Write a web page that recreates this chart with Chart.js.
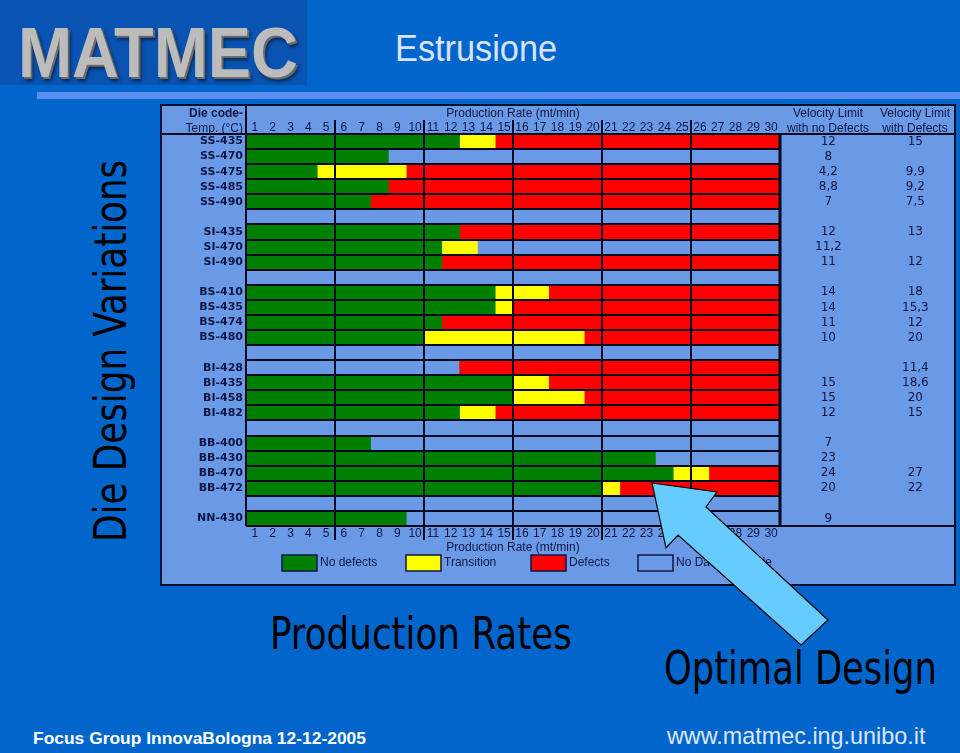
<!DOCTYPE html>
<html>
<head>
<meta charset="utf-8">
<script src="https://cdn.jsdelivr.net/npm/chart.js@4.4.1/dist/chart.umd.min.js"></script>
<style>
  html, body { margin: 0; padding: 0; }
  body { width: 960px; height: 753px; background: #0066cc; position: relative; overflow: hidden;
         font-family: "Liberation Sans", Arial, sans-serif; }
  .t { position: absolute; white-space: nowrap; line-height: 1; transform-origin: 0 0; }
  #logo { position: absolute; left: 0; top: 0; width: 307px; height: 85px; background: #0953b2; }
  #logoText { left: 18px; top: 13px; font: bold 70px "Liberation Sans"; color: #bcbcbc;
              text-shadow: 2px 2px 0 #6b6b6b, 3px 4px 4px rgba(0,0,0,0.55); }
  #title { left: 395px; top: 31px; font-size: 36px; color: #dbe2ff; }
  #rule { position: absolute; left: 37px; top: 92px; width: 923px; height: 7px; background: #5b8ef2; }
  #side { left: 84px; top: 542px; font: 45px "DejaVu Sans Condensed", "DejaVu Sans"; color: #000; }
  #prod { left: 270px; top: 607px; font: 45px "DejaVu Sans Condensed", "DejaVu Sans"; color: #000; }
  #opt { left: 664px; top: 641px; font: 46px "DejaVu Sans Condensed", "DejaVu Sans"; color: #000; }
  #foot1 { left: 33px; top: 729px; font: bold 17px "Liberation Sans"; color: #fff; }
  #foot2 { left: 667px; top: 724px; font-size: 24px; color: #dfe6ff; }
  #table { position: absolute; left: 160px; top: 104px; width: 796px; height: 482px; box-sizing: border-box;
           border: 2px solid #0a0f2e; background: #6a9ae6; }
  #table > div { position: relative; width: 792px; height: 478px; }
  #arrow { position: absolute; left: 0; top: 0; }
</style>
</head>
<body>
<div id="logo"></div>
<div class="t" id="logoText">MATMEC</div>
<div class="t" id="title">Estrusione</div>
<div id="rule"></div>
<div class="t" id="side">Die Design Variations</div>

<div id="table"><div><canvas id="chart"></canvas></div></div>

<div class="t" id="prod">Production Rates</div>
<div class="t" id="opt">Optimal Design</div>
<div class="t" id="foot1">Focus Group InnovaBologna 12-12-2005</div>
<div class="t" id="foot2">www.matmec.ing.unibo.it</div>

<svg id="arrow" width="960" height="753">
  <polygon points="652,483 717,492 706,507 828,620 801,645 678,535 666,548"
           fill="#66ccff" stroke="#000" stroke-width="1.2" stroke-linejoin="miter"/>
</svg>

<script>
  // die codes (empty strings are the spacer rows between families)
  var dieCodes = ["SS-435", "SS-470", "SS-475", "SS-485", "SS-490", "",
                  "SI-435", "SI-470", "SI-490", "",
                  "BS-410", "BS-435", "BS-474", "BS-480", "",
                  "BI-428", "BI-435", "BI-458", "BI-482", "",
                  "BB-400", "BB-430", "BB-470", "BB-472", "",
                  "NN-430"];

  var rateLabels = ["1", "2", "3", "4", "5", "6", "7", "8", "9", "10",
                    "11", "12", "13", "14", "15", "16", "17", "18", "19", "20",
                    "21", "22", "23", "24", "25", "26", "27", "28", "29", "30"];

  // production rate ranges (mt/min) for each state, one entry per row
  var noDefects = [[0, 12], [0, 8], [0, 4], [0, 8], [0, 7], null,
                   [0, 12], [0, 11], [0, 11], null,
                   [0, 14], [0, 14], [0, 11], [0, 10], null,
                   null, [0, 15], [0, 15], [0, 12], null,
                   [0, 7], [0, 23], [0, 24], [0, 20], null,
                   [0, 9]];
  var transition = [[12, 14], null, [4, 9], null, null, null,
                    null, [11, 13], null, null,
                    [14, 17], [14, 15], null, [10, 19], null,
                    null, [15, 17], [15, 19], [12, 14], null,
                    null, null, [24, 26], [20, 21], null,
                    null];
  var defects = [[14, 30], null, [9, 30], [8, 30], [7, 30], null,
                 [12, 30], null, [11, 30], null,
                 [17, 30], [15, 30], [11, 30], [19, 30], null,
                 [12, 30], [17, 30], [19, 30], [14, 30], null,
                 null, null, [26, 30], [21, 30], null,
                 null];
  var noData = [null, [8, 30], null, null, null, null,
                null, [13, 30], null, null,
                null, null, null, null, null,
                [0, 12], null, null, null, null,
                [7, 30], [23, 30], null, null, null,
                [9, 30]];

  var velNoDefects = [12, 8, 4.2, 8.8, 7, null,
                      12, 11.2, 11, null,
                      14, 14, 11, 10, null,
                      null, 15, 15, 12, null,
                      7, 23, 24, 20, null,
                      9];
  var velDefects = [15, null, 9.9, 9.2, 7.5, null,
                    13, null, 12, null,
                    18, 15.3, 12, 20, null,
                    11.4, 18.6, 20, 15, null,
                    null, null, 27, 22, null,
                    null];

  var ink = "#0e1646";
  var rule = "#05081e";

  function commaText(list) {
    return list.map(v => v == null ? "" : String(v).replace(".", ","));
  }

  function everyFifth(ctx) {
    return (ctx.index % 5 === 0 && ctx.index > 0 && ctx.index < 30) ? rule : "rgba(0,0,0,0)";
  }

  // table rules, header cells and the legend row
  var tableRules = {
    id: "tableRules",
    afterDraw(chart) {
      var c = chart.ctx, a = chart.chartArea, w = chart.width;
      var line = (x1, y1, x2, y2) => { c.beginPath(); c.moveTo(x1, y1); c.lineTo(x2, y2); c.stroke(); };
      c.save();
      c.strokeStyle = rule;
      c.lineWidth = 2;
      line(0, a.top, w, a.top);
      line(a.left, 0, a.left, a.bottom);
      line(a.left, a.bottom, w, a.bottom);
      c.lineWidth = 3;
      line(a.right, a.top, a.right, a.bottom);

      c.fillStyle = ink;
      c.textBaseline = "middle";
      c.textAlign = "right";
      c.font = "bold 12px 'Liberation Sans'";
      c.fillText("Die code-", a.left - 3, 8);
      c.font = "12px 'Liberation Sans'";
      c.fillText("Temp. (°C)", a.left - 3, 23);

      c.textAlign = "center";
      var s1 = chart.scales.yNo, s2 = chart.scales.yDef;
      var m1 = (s1.left + s1.right) / 2, m2 = (s2.left + s2.right) / 2;
      c.fillText("Velocity Limit", m1, 8);
      c.fillText("with no Defects", m1, 23);
      c.fillText("Velocity Limit", m2, 8);
      c.fillText("with Defects", m2, 23);

      // legend
      var offs = [36, 160, 285, 392];
      var top = a.bottom + 29;
      c.textAlign = "left";
      c.lineWidth = 1.5;
      c.strokeStyle = ink;
      chart.data.datasets.forEach((ds, i) => {
        var x = a.left + offs[i];
        c.fillStyle = ds.backgroundColor;
        c.fillRect(x, top, 35, 16);
        c.strokeRect(x, top, 35, 16);
        c.fillStyle = ink;
        c.fillText(ds.label, x + 38, top + 8);
      });
      c.restore();
    }
  };

  Chart.defaults.font.family = "'Liberation Sans', Arial, sans-serif";

  var ctx = document.getElementById("chart").getContext("2d");
  var chart = new Chart(ctx, {
    type: "bar",
    data: {
      labels: dieCodes,
      datasets: [
        { label: "No defects", data: noDefects, backgroundColor: "#008000" },
        { label: "Transition", data: transition, backgroundColor: "#ffff00" },
        { label: "Defects", data: defects, backgroundColor: "#ff0000" },
        { label: "No Data Available", data: noData, backgroundColor: "#6a9ae6" }
      ]
    },
    options: {
      indexAxis: "y",
      responsive: true,
      maintainAspectRatio: false,
      animation: false,
      datasets: {
        bar: { grouped: false, barPercentage: 1, categoryPercentage: 1, borderWidth: 0 }
      },
      layout: { padding: { top: 0, right: 0, bottom: 29, left: 0 } },
      plugins: {
        legend: { display: false },
        tooltip: { enabled: false }
      },
      scales: {
        x: {
          type: "linear", min: 0, max: 30, position: "bottom",
          ticks: { display: false, stepSize: 5 },
          grid: { color: rule, lineWidth: 2, drawTicks: false, z: 1 },
          border: { display: false }
        },
        xTop: {
          type: "category", labels: rateLabels, position: "top", offset: true,
          grid: { offset: true, drawOnChartArea: false, tickLength: 14, lineWidth: 2, color: everyFifth },
          border: { display: false },
          ticks: { autoSkip: false, maxRotation: 0, padding: -15, color: ink, font: { size: 12 } },
          title: { display: true, text: "Production Rate (mt/min)", padding: 0, color: ink, font: { size: 12 } },
          afterFit: s => { s.height = 28; }
        },
        xBot: {
          type: "category", labels: rateLabels, position: "bottom", offset: true,
          grid: { offset: true, drawOnChartArea: false, tickLength: 14, lineWidth: 2, color: everyFifth },
          border: { display: false },
          ticks: { autoSkip: false, maxRotation: 0, padding: -14, color: ink, font: { size: 12 } },
          title: { display: true, text: "Production Rate (mt/min)", padding: 0, color: ink, font: { size: 12 } },
          afterFit: s => { s.height = 29; }
        },
        y: {
          grid: { color: rule, lineWidth: 2, drawTicks: false, z: 1 },
          border: { display: false },
          ticks: { autoSkip: false, padding: 3, color: ink, font: { family: "'DejaVu Sans'", weight: "bold", size: 11 } },
          afterFit: s => { s.width = 84; }
        },
        yNo: {
          type: "category", labels: commaText(velNoDefects), position: "right", offset: true, weight: 1,
          grid: { display: false, drawTicks: false },
          border: { display: false },
          ticks: { autoSkip: false, crossAlign: "center", padding: 35, color: ink, font: { family: "'DejaVu Sans'", size: 12 } },
          afterFit: s => { s.width = 96; s.paddingTop = 0; s.paddingBottom = 0; }
        },
        yDef: {
          type: "category", labels: commaText(velDefects), position: "right", offset: true, weight: 2,
          grid: { display: false, drawTicks: false },
          border: { display: false },
          ticks: { autoSkip: false, crossAlign: "center", padding: 26, color: ink, font: { family: "'DejaVu Sans'", size: 12 } },
          afterFit: s => { s.width = 78; s.paddingTop = 0; s.paddingBottom = 0; }
        }
      }
    },
    plugins: [tableRules]
  });

  // squeeze slide texts to the widths they have on the slide
  function fit(id, target, pre) {
    var el = document.getElementById(id);
    var k = target / el.offsetWidth;
    el.style.transform = (pre || "") + " scaleX(" + k + ")";
  }
  fit("logoText", 280);
  fit("title", 162);
  fit("side", 382, "rotate(-90deg)");
  fit("prod", 302);
  fit("opt", 273);
  fit("foot1", 333);
  fit("foot2", 258);
</script>
</body>
</html>
